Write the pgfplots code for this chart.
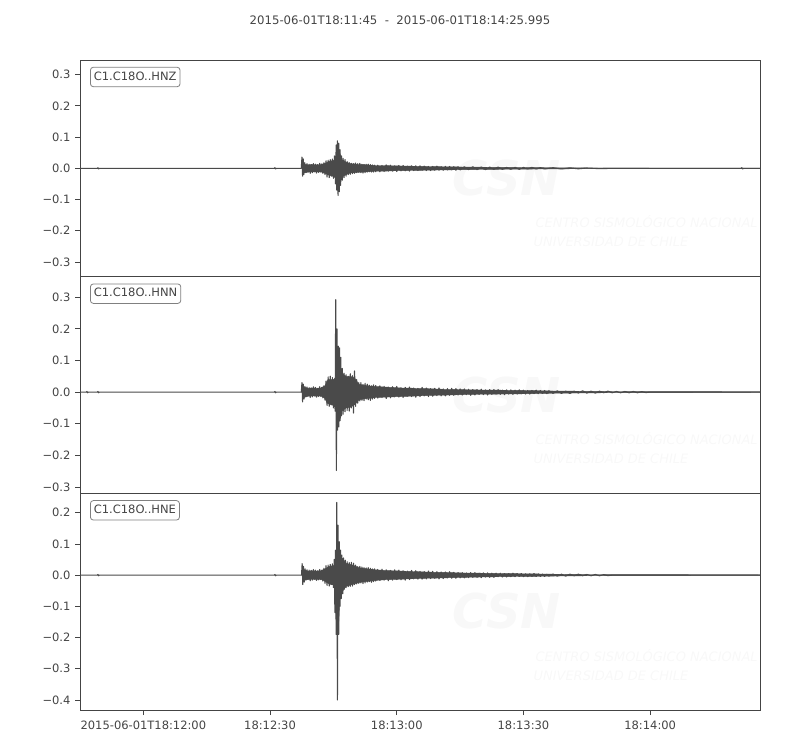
\documentclass[border=0pt]{standalone}
\usepackage{pgfplots}
\pgfplotsset{compat=1.18}
\usepackage{fontspec}
\setmainfont{DejaVu Sans}
\definecolor{trc}{HTML}{4A4A4A}
\definecolor{axc}{HTML}{444444}
\definecolor{txc}{HTML}{444444}
\definecolor{wmk}{HTML}{F8F8F8}
\pgfplotsset{
  panel/.style={
    scale only axis, width=680pt, height=216.67pt,
    xmin=0, xmax=161,
    axis line style={color=axc, line width=0.8pt},
    tick style={color=axc, line width=0.8pt},
    tick align=outside, major tick length=5pt,
    ytick pos=left, xtick pos=bottom,
    ticklabel style={font=\fontsize{11.5}{13}\selectfont, text=txc},
    yticklabel style={xshift=-1pt},
    clip=true,
  },
  trace/.style={color=trc, line width=1.1pt, mark=none, line join=round},
  band/.style={fill=trc, draw=trc, line width=0.4pt, mark=none},
}
\begin{document}
\begin{tikzpicture}
\useasboundingbox (0pt,0pt) rectangle (800pt,750pt);
% faint watermark
\foreach \dy in {0,-216.67,-433.33}{
  \node[font=\bfseries\itshape\fontsize{48}{50}\selectfont, text=wmk] at (507pt,572pt+\dy pt) {CSN};
  \node[font=\itshape\fontsize{13}{14}\selectfont, text=wmk, anchor=west] at (532pt,528pt+\dy pt) {CENTRO SISMOLÓGICO NACIONAL};
  \node[font=\itshape\fontsize{13}{14}\selectfont, text=wmk, anchor=west] at (530pt,508pt+\dy pt) {UNIVERSIDAD DE CHILE};
}
\node[font=\fontsize{11.7}{13}\selectfont, text=txc] at (400pt,730pt) {2015-06-01T18:11:45\ \ -\ \ 2015-06-01T18:14:25.995};

% ---------- HNZ ----------
\begin{axis}[panel, at={(80pt,473.33pt)}, anchor=south west,
  ymin=-0.347, ymax=0.347, xtick=\empty,
  ytick={-0.3,-0.2,-0.1,0,0.1,0.2,0.3},
  yticklabels={−0.3,−0.2,−0.1,0.0,0.1,0.2,0.3}]
\addplot[band] coordinates {
(52.7,0.02)(53.2,0.013)(54,0.011)(55,0.012)(56,0.011)(57,0.012)(58,0.016)(59,0.022)(60,0.025)(60.5,0.03)(61,0.06)(61.5,0.05)
(62,0.028)(63,0.02)(64,0.015)(65,0.014)(66,0.012)(67,0.012)(68,0.011)(69,0.01)(70,0.009)(72,0.009)(74,0.008)(76,0.0075)(78,0.007)
(80,0.0065)(82,0.006)(84,0.0055)(86,0.005)(88,0.0047)(90,0.0043)(93,0.004)(96,0.0035)(100,0.003)(104,0.0027)(108,0.0022)(112,0.0018)
(116,0.0015)(120,0.0012)(140,0.001)(161,0.001)
(161,-0.001)(140,-0.001)(120,-0.0012)(116,-0.0015)(112,-0.0018)(108,-0.0022)(104,-0.0027)(100,-0.003)(96,-0.0035)(93,-0.004)(90,-0.0043)(88,-0.0047)
(86,-0.005)(84,-0.0055)(82,-0.006)(80,-0.0065)(78,-0.007)(76,-0.0075)(74,-0.008)(72,-0.009)(70,-0.009)(69,-0.01)(68,-0.011)
(67,-0.012)(66,-0.012)(65,-0.014)(64,-0.015)(63,-0.02)(62,-0.028)
(61.5,-0.045)(61,-0.06)(60.5,-0.03)(60,-0.026)(59,-0.022)(58,-0.016)(57,-0.011)(56,-0.012)(55,-0.011)(54,-0.012)(53.2,-0.014)(52.7,-0.018)
};
\addplot[trace] coordinates {
(0,0)(4.1,0)(4.25,0.002)(4.4,-0.002)(4.55,0)(46,0)(46.15,0.002)(46.3,-0.002)(46.45,0)(52.4,0)
(52.55,0.036)(52.7,-0.025)(52.85,0.03)(53.0,-0.02)(53.2,0.018)
(53.5,-0.014)(53.75,0.015)(54.0,-0.012)(54.25,0.013)(54.5,-0.016)(54.75,0.012)(55.0,-0.014)(55.25,0.015)(55.5,-0.011)(55.75,0.013)
(56.0,-0.015)(56.25,0.012)(56.5,-0.013)(56.75,0.016)(57.0,-0.012)(57.25,0.014)(57.5,-0.016)(57.75,0.018)(58.0,-0.02)
(58.25,0.024)(58.5,-0.028)(58.75,0.026)(59.0,-0.03)(59.25,0.028)(59.5,-0.025)(59.75,0.03)(60.0,-0.032)(60.25,0.04)(60.5,-0.05)
(60.65,0.075)(60.8,-0.07)(60.95,0.088)(61.1,-0.087)(61.25,0.08)(61.4,-0.075)(61.55,0.06)(61.7,-0.055)(61.9,0.04)(62.1,-0.038)
(62.3,0.032)(62.5,-0.03)(62.75,0.028)(63.0,-0.025)(63.25,0.022)(63.5,-0.02)(63.75,0.018)(64.0,-0.019)(64.25,0.016)(64.5,-0.017)
(64.75,0.015)(65.0,-0.016)(65.25,0.017)(65.5,-0.014)(65.75,0.015)(66.0,-0.013)(66.25,0.016)(66.5,-0.014)(66.75,0.013)(67.0,-0.015)
(67.25,0.012)(67.5,-0.014)(67.75,0.013)(68.0,-0.012)(68.25,0.013)(68.5,-0.011)(68.75,0.012)(69.0,-0.012)(69.25,0.011)(69.5,-0.012)
(69.75,0.01)(70.0,-0.011)
(70.5,0.01)(71,-0.011)(71.5,0.009)(72,-0.01)(72.5,0.011)(73,-0.009)(73.5,0.01)(74,-0.009)(74.5,0.008)(75,-0.01)
(75.5,0.009)(76,-0.008)(76.5,0.009)(77,-0.008)(77.5,0.007)(78,-0.009)(78.5,0.008)(79,-0.007)(79.5,0.008)(80,-0.007)
(80.5,0.008)(81,-0.006)(81.5,0.007)(82,-0.007)(82.5,0.006)(83,-0.007)(83.5,0.006)(84,-0.006)(84.5,0.007)(85,-0.006)
(85.5,0.005)(86,-0.006)(86.5,0.006)(87,-0.005)(87.5,0.006)(88,-0.005)(88.5,0.005)(89,-0.006)(89.5,0.005)(90,-0.005)
(91,0.005)(92,-0.004)(93,0.005)(94,-0.004)(95,0.004)(96,-0.004)(97,0.004)(98,-0.003)(99,0.004)(100,-0.003)
(101,0.003)(102,-0.003)(103,0.003)(104,-0.003)(105,0.003)(106,-0.002)(107,0.003)(108,-0.002)(109,0.002)(110,-0.002)
(112,0.002)(114,-0.002)(116,0.0015)(118,-0.0015)(120,0.001)(123,-0.001)(126,0)
(156.5,0)(156.7,0.002)(156.9,-0.002)(157.1,0)(161,0)
};
\end{axis}

% ---------- HNN ----------
\begin{axis}[panel, at={(80pt,256.67pt)}, anchor=south west,
  ymin=-0.32, ymax=0.365, xtick=\empty,
  ytick={-0.3,-0.2,-0.1,0,0.1,0.2,0.3},
  yticklabels={−0.3,−0.2,−0.1,0.0,0.1,0.2,0.3}]
\addplot[band] coordinates {
(52.7,0.022)(53.2,0.015)(54,0.012)(55,0.013)(56,0.012)(57,0.013)(58,0.02)(58.5,0.035)(59,0.04)(60,0.04)(60.5,0.045)(61,0.1)(61.5,0.09)
(62,0.06)(63,0.05)(64,0.05)(65,0.045)(66,0.025)(67,0.022)(68,0.02)(69,0.019)(70,0.018)(72,0.016)(74,0.015)(76,0.013)(78,0.013)
(80,0.011)(82,0.011)(84,0.01)(86,0.009)(88,0.009)(90,0.008)(93,0.007)(96,0.0065)(100,0.006)(104,0.0055)(108,0.0045)(112,0.0035)
(116,0.003)(120,0.0025)(125,0.002)(130,0.0017)(135,0.0015)(161,0.0012)
(161,-0.0012)(135,-0.0015)(130,-0.0017)(125,-0.002)(120,-0.0025)(116,-0.003)(112,-0.0035)(108,-0.0045)(104,-0.0055)(100,-0.006)(96,-0.0065)
(93,-0.007)(90,-0.008)(88,-0.009)(86,-0.0095)(84,-0.01)(82,-0.011)(80,-0.012)(78,-0.013)(76,-0.014)(74,-0.015)(72,-0.016)
(70,-0.017)(69,-0.019)(68,-0.02)(67,-0.022)(66,-0.025)(65,-0.04)(64,-0.048)(63,-0.05)(62,-0.06)
(61.5,-0.07)(61,-0.09)(60.5,-0.045)(60,-0.042)(59,-0.038)(58.5,-0.035)(58,-0.02)(57,-0.012)(56,-0.013)(55,-0.012)(54,-0.013)(53.2,-0.016)(52.7,-0.024)
};
\addplot[trace] coordinates {
(0,0)(1.5,0)(1.65,0.002)(1.8,-0.002)(1.95,0)(4.1,0)(4.25,0.002)(4.4,-0.002)(4.55,0)(46,0)(46.15,0.002)(46.3,-0.002)(46.45,0)(52.4,0)
(52.55,0.030)(52.7,-0.031)(52.85,0.025)(53.05,-0.022)(53.25,0.018)
(53.5,-0.015)(53.75,0.016)(54.0,-0.012)(54.25,0.014)(54.5,-0.017)(54.75,0.013)(55.0,-0.015)(55.25,0.017)(55.5,-0.011)(55.75,0.015)
(56.0,-0.016)(56.25,0.012)(56.5,-0.014)(56.75,0.017)(57.0,-0.013)(57.25,0.015)(57.5,-0.018)(57.75,0.02)(58.0,-0.025)
(58.25,0.035)(58.5,-0.042)(58.75,0.048)(59.0,-0.045)(59.25,0.05)(59.5,-0.04)(59.75,0.046)(60.0,-0.05)(60.2,0.04)(60.4,-0.06)
(60.55,0.292)(60.7,-0.248)(60.85,0.2)(61.0,-0.12)(61.15,0.145)(61.3,-0.11)(61.45,0.14)(61.6,-0.09)(61.75,0.11)(61.9,-0.075)
(62.1,0.075)(62.3,-0.07)(62.5,0.06)(62.75,-0.062)(63.0,0.055)(63.25,-0.058)(63.5,0.05)(63.75,-0.06)(64.0,0.058)(64.25,-0.05)
(64.5,0.052)(64.75,-0.066)(65.0,0.067)(65.25,-0.045)(65.5,0.04)(65.75,-0.035)(66.0,0.03)(66.25,-0.028)(66.5,0.03)(66.75,-0.026)
(67.0,0.024)(67.25,-0.027)(67.5,0.028)(67.75,-0.022)(68.0,0.025)(68.25,-0.024)(68.5,0.022)(68.75,-0.026)(69.0,0.02)(69.25,-0.022)
(69.5,0.023)(69.75,-0.02)(70.0,0.021)
(70.5,-0.019)(71,0.02)(71.5,-0.017)(72,0.018)(72.5,-0.02)(73,0.016)(73.5,-0.018)(74,0.017)(74.5,-0.015)(75,0.018)
(75.5,-0.016)(76,0.014)(76.5,-0.017)(77,0.015)(77.5,-0.013)(78,0.016)(78.5,-0.014)(79,0.013)(79.5,-0.016)(80,0.012)
(80.5,-0.014)(81,0.015)(81.5,-0.012)(82,0.013)(82.5,-0.014)(83,0.011)(83.5,-0.013)(84,0.012)(84.5,-0.011)(85,0.013)
(85.5,-0.012)(86,0.01)(86.5,-0.012)(87,0.011)(87.5,-0.01)(88,0.012)(88.5,-0.01)(89,0.011)(89.5,-0.009)(90,0.01)
(90.5,-0.009)(91,0.01)(91.5,-0.008)(92,0.009)(92.5,-0.01)(93,0.008)(93.5,-0.009)(94,0.008)(94.5,-0.007)(95,0.009)
(95.5,-0.008)(96,0.007)(96.5,-0.009)(97,0.008)(97.5,-0.007)(98,0.008)(98.5,-0.006)(99,0.008)(99.5,-0.007)(100,0.006)
(100.5,-0.008)(101,0.007)(101.5,-0.006)(102,0.007)(102.5,-0.007)(103,0.006)(103.5,-0.006)(104,0.007)(104.5,-0.005)(105,0.006)
(105.5,-0.006)(106,0.005)(106.5,-0.006)(107,0.005)(107.5,-0.005)(108,0.006)(108.5,-0.005)(109,0.005)(109.5,-0.004)(110,0.005)
(110.5,-0.005)(111,0.004)
(112,-0.004)(113,0.004)(114,-0.004)(115,0.003)(116,-0.004)(117,0.003)(118,-0.003)(119,0.004)(120,-0.003)(121,0.003)
(122,-0.003)(123,0.003)(124,-0.002)(125,0.003)(126,-0.002)(127,0.002)(128,-0.002)(129,0.002)(130,-0.002)(131,0.002)
(132,-0.002)(133,0.0015)(134,-0.0015)(135,0)(161,0)
};
\end{axis}

% ---------- HNE ----------
\begin{axis}[panel, at={(80pt,40pt)}, anchor=south west,
  ymin=-0.432, ymax=0.262,
  ytick={-0.4,-0.3,-0.2,-0.1,0,0.1,0.2},
  yticklabels={−0.4,−0.3,−0.2,−0.1,0.0,0.1,0.2},
  xtick={15,45,75,105,135},
  xticklabels={2015-06-01T18:12:00,18:12:30,18:13:00,18:13:30,18:14:00},
  xticklabel style={yshift=-2pt}]
\addplot[band] coordinates {
(52.7,0.022)(53.2,0.016)(54,0.013)(55,0.014)(56,0.013)(57,0.014)(58,0.02)(59,0.028)(60,0.03)(60.5,0.04)(61,0.1)(61.5,0.07)
(62,0.055)(63,0.038)(64,0.034)(65,0.03)(66,0.024)(67,0.022)(68,0.02)(69,0.019)(70,0.017)(72,0.015)(74,0.014)(76,0.013)(78,0.012)
(80,0.011)(82,0.01)(84,0.009)(86,0.009)(88,0.008)(90,0.007)(93,0.0065)(96,0.006)(100,0.005)(104,0.0045)(108,0.0038)(112,0.003)
(116,0.0025)(120,0.002)(125,0.0018)(130,0.0015)(161,0.0012)
(161,-0.0012)(130,-0.0015)(125,-0.0018)(120,-0.002)(116,-0.0025)(112,-0.003)(108,-0.0038)(104,-0.0042)(100,-0.005)(96,-0.0058)(93,-0.0065)
(90,-0.0075)(88,-0.008)(86,-0.009)(84,-0.0095)(82,-0.01)(80,-0.011)(78,-0.012)(76,-0.013)(74,-0.014)(72,-0.015)(70,-0.017)
(69,-0.019)(68,-0.02)(67,-0.022)(66,-0.024)(65,-0.028)(64,-0.032)(63,-0.036)(62,-0.055)
(61.5,-0.08)(61.2,-0.17)(60.7,-0.17)(60.5,-0.05)(60,-0.032)(59,-0.028)(58,-0.02)(57,-0.013)(56,-0.014)(55,-0.013)(54,-0.014)(53.2,-0.016)(52.7,-0.024)
};
\addplot[trace] coordinates {
(0,0)(4.1,0)(4.25,0.002)(4.4,-0.002)(4.55,0)(46,0)(46.15,0.002)(46.3,-0.002)(46.45,0)(52.45,0)
(52.6,0.037)(52.75,-0.03)(52.9,0.028)(53.1,-0.022)(53.3,0.02)
(53.5,-0.016)(53.75,0.017)(54.0,-0.014)(54.25,0.016)(54.5,-0.018)(54.75,0.015)(55.0,-0.016)(55.25,0.018)(55.5,-0.013)(55.75,0.016)
(56.0,-0.017)(56.25,0.014)(56.5,-0.015)(56.75,0.018)(57.0,-0.014)(57.25,0.016)(57.5,-0.019)(57.75,0.022)(58.0,-0.026)
(58.25,0.03)(58.5,-0.033)(58.75,0.032)(59.0,-0.035)(59.25,0.034)(59.5,-0.03)(59.75,0.036)(60.0,-0.04)(60.2,0.05)(60.35,-0.12)
(60.5,0.08)(60.65,-0.19)(60.8,0.233)(60.95,-0.40)(61.1,0.16)(61.25,-0.19)(61.4,0.107)(61.55,-0.1)(61.7,0.08)(61.85,-0.075)
(62.0,0.064)(62.2,-0.06)(62.4,0.055)(62.6,-0.045)(62.8,0.048)(63.0,-0.04)(63.25,0.043)(63.5,-0.037)(63.75,0.04)(64.0,-0.036)
(64.25,0.041)(64.5,-0.035)(64.75,0.038)(65.0,-0.03)(65.25,0.032)(65.5,-0.028)(65.75,0.027)(66.0,-0.026)(66.25,0.028)(66.5,-0.025)
(66.75,0.026)(67.0,-0.027)(67.25,0.024)(67.5,-0.025)(67.75,0.023)(68.0,-0.022)(68.25,0.024)(68.5,-0.021)(68.75,0.022)(69.0,-0.023)
(69.25,0.02)(69.5,-0.021)(69.75,0.02)(70.0,-0.019)
(70.5,0.018)(71,-0.017)(71.5,0.019)(72,-0.016)(72.5,0.017)(73,-0.018)(73.5,0.015)(74,-0.016)(74.5,0.017)(75,-0.014)
(75.5,0.016)(76,-0.015)(76.5,0.014)(77,-0.016)(77.5,0.013)(78,-0.014)(78.5,0.015)(79,-0.012)(79.5,0.014)(80,-0.013)
(80.5,0.012)(81,-0.013)(81.5,0.011)(82,-0.012)(82.5,0.013)(83,-0.011)(83.5,0.012)(84,-0.01)(84.5,0.011)(85,-0.012)
(85.5,0.01)(86,-0.011)(86.5,0.01)(87,-0.009)(87.5,0.011)(88,-0.01)(88.5,0.009)(89,-0.01)(89.5,0.008)(90,-0.009)
(90.5,0.008)(91,-0.009)(91.5,0.007)(92,-0.008)(92.5,0.008)(93,-0.007)(93.5,0.008)(94,-0.007)(94.5,0.006)(95,-0.008)
(95.5,0.007)(96,-0.006)(96.5,0.007)(97,-0.007)(97.5,0.006)(98,-0.007)(98.5,0.006)(99,-0.005)(99.5,0.006)(100,-0.006)
(100.5,0.005)(101,-0.006)(101.5,0.005)(102,-0.005)(102.5,0.006)(103,-0.005)(103.5,0.005)(104,-0.004)(104.5,0.005)(105,-0.005)
(105.5,0.004)(106,-0.005)(106.5,0.004)(107,-0.004)(107.5,0.005)(108,-0.004)(108.5,0.004)(109,-0.004)(109.5,0.003)(110,-0.004)
(110.5,0.003)(111,-0.003)
(112,0.003)(113,-0.003)(114,0.003)(115,-0.003)(116,0.003)(117,-0.002)(118,0.003)(119,-0.002)(120,0.002)(121,-0.002)
(122,0.002)(123,-0.002)(124,0.0015)(125,-0.0015)(126,0)(161,0)
};
\end{axis}

% trace labels
\foreach \yy/\lab in {673/HNZ,456.33/HNN,239.67/HNE}{
  \node[draw=gray, line width=0.8pt, rounded corners=3pt, fill=white, text=txc,
        font=\fontsize{11.5}{13}\selectfont, inner xsep=3.5pt, inner ysep=4.5pt, anchor=west,
        text height=8.5pt, text depth=2pt] at (90pt,\yy pt) {C1.C18O..\lab};
}
\end{tikzpicture}
\end{document}
